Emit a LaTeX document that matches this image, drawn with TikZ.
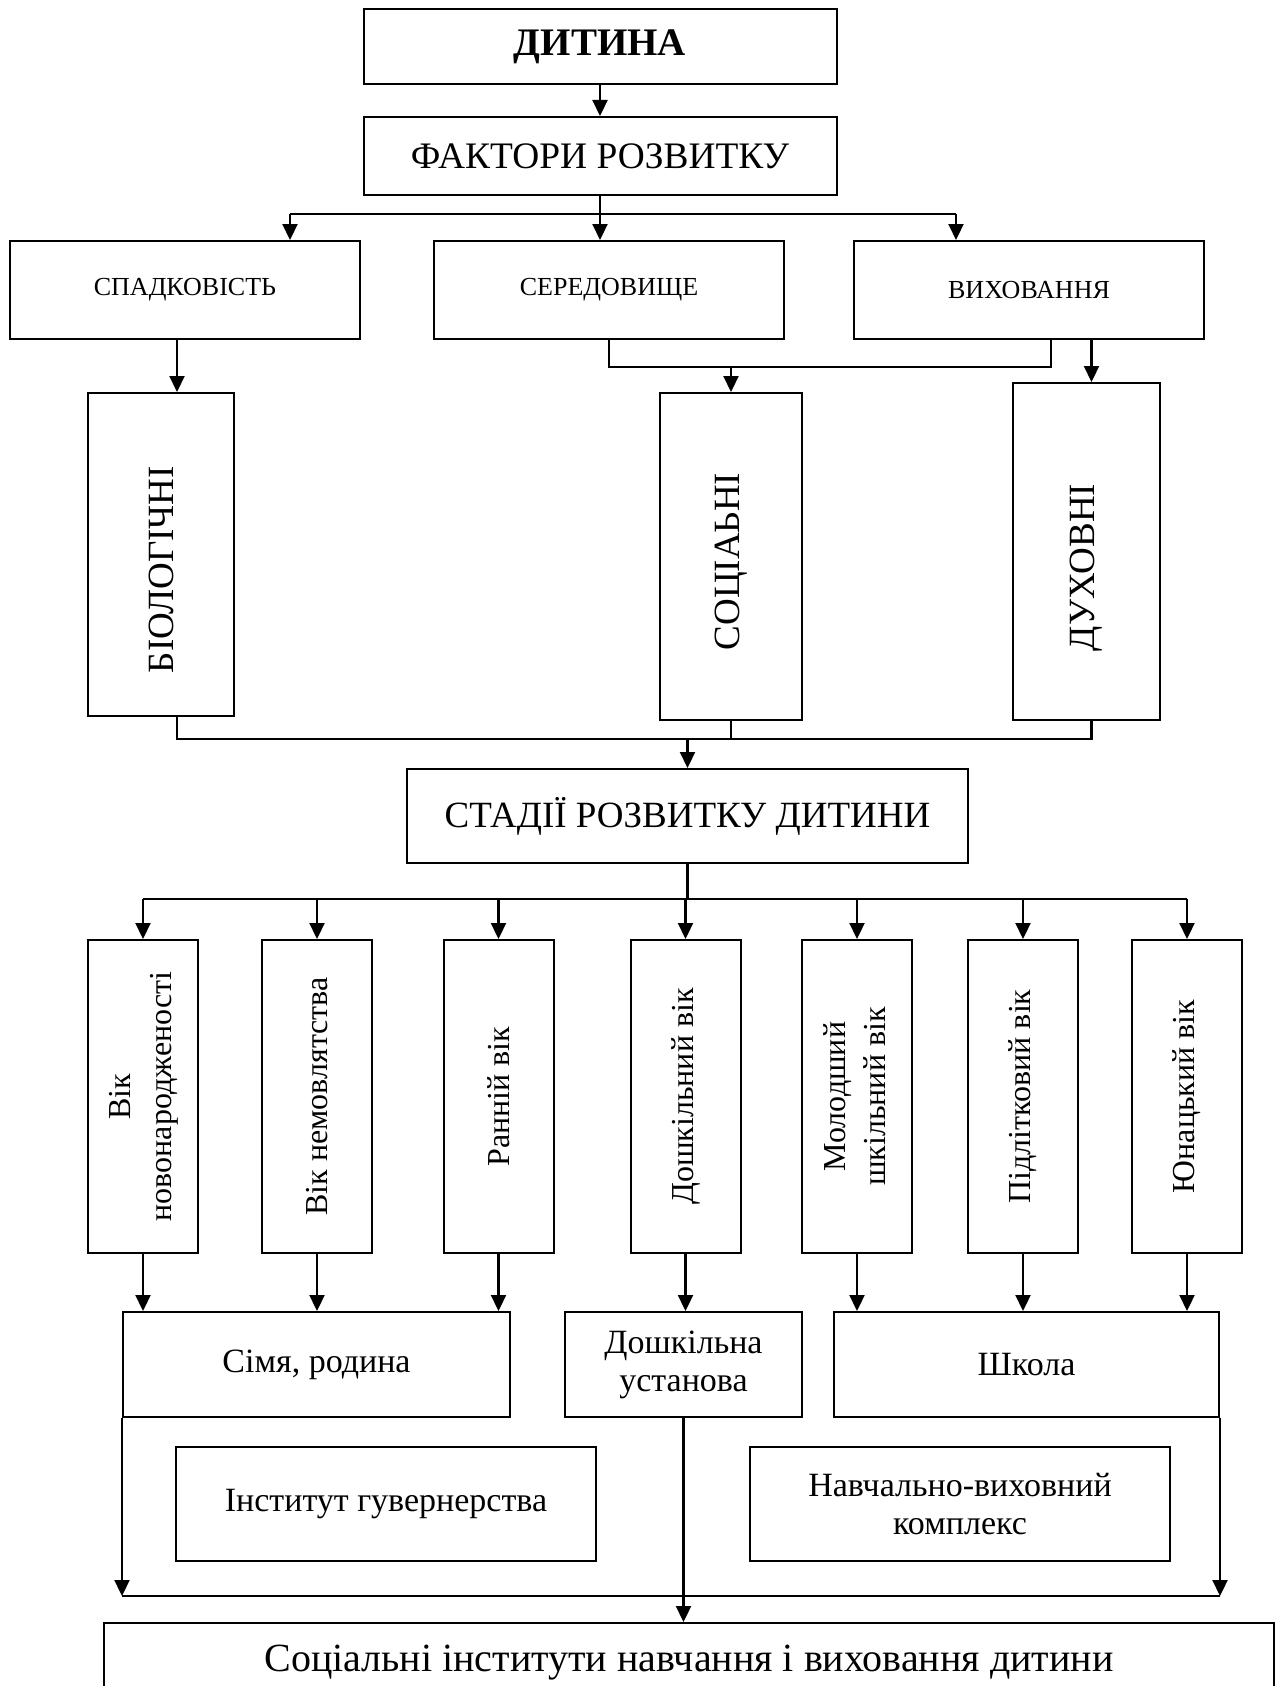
\documentclass[tikz,border=0pt]{standalone}
\usepackage{fontspec}
\setmainfont{Liberation Serif}
\usepackage{graphicx}
\usetikzlibrary{arrows.meta}

\begin{document}
\begin{tikzpicture}[x=0.5pt,y=-0.5pt,
  box/.style={draw, line width=1pt, inner sep=0pt, align=center},
  wire/.style={line width=1.1pt},
  arr/.style={wire, -{Triangle[length=8pt,width=7.5pt]}},
  headfont/.style={font=\fontsize{18.7pt}{21pt}\selectfont},
  smallcaps/.style={font=\fontsize{13pt}{15pt}\selectfont},
  tallfont/.style={font=\fontsize{18.5pt}{22pt}\selectfont},
  stagefont/.style={font=\fontsize{16pt}{20pt}\selectfont},
  instfont/.style={font=\fontsize{17pt}{19pt}\selectfont},
  stagebox/.style={box, stagefont, minimum width=55pt, minimum height=156.5pt}]
\useasboundingbox (0,0) rectangle (1283,1686);

% top part
\node[box, minimum width=236.5pt, minimum height=37.5pt, font=\fontsize{19.5pt}{22pt}\selectfont\bfseries] (dyt) at (600,46.5) {ДИТИНА};
\node[box, headfont, minimum width=236.5pt, minimum height=39pt] (fakt) at (600,156) {ФАКТОРИ РОЗВИТКУ};
\node[box, smallcaps, minimum width=175pt, minimum height=49pt] (spad) at (185,290) {СПАДКОВІСТЬ};
\node[box, smallcaps, minimum width=175pt, minimum height=49pt] (sered) at (609,290) {СЕРЕДОВИЩЕ};
\node[box, smallcaps, minimum width=175pt, minimum height=49pt] (vykh) at (1029,290) {ВИХОВАННЯ};

\node[box, tallfont, minimum width=73pt, minimum height=161.5pt] (bio) at (161,554.5) {\rotatebox{90}{БІОЛОГІЧНІ\hspace*{15pt}}};
\node[box, tallfont, minimum width=71pt, minimum height=163.5pt] (sots) at (731,556.5) {\rotatebox{90}{СОЦІАЬНІ\hspace*{5pt}}};
\node[box, tallfont, minimum width=73.5pt, minimum height=168.5pt] (dukh) at (1086.5,551.5) {\rotatebox{90}{ДУХОВНІ\hspace*{16pt}}};

\node[box, tallfont, minimum width=280.5pt, minimum height=47pt] (stad) at (687.5,816) {СТАДІЇ РОЗВИТКУ ДИТИНИ};

% stages
\node[stagebox] (st1) at (143,1096.5) {\rotatebox{90}{\begin{tabular}{@{}c@{}}Вік\\новонародженості\end{tabular}}};
\node[stagebox] (st2) at (317,1096.5) {\rotatebox{90}{Вік немовлятства}};
\node[stagebox] (st3) at (498.5,1096.5) {\rotatebox{90}{Ранній вік}};
\node[stagebox] (st4) at (685.5,1096.5) {\rotatebox{90}{Дошкільний вік}};
\node[stagebox] (st5) at (857,1096.5) {\rotatebox{90}{\begin{tabular}{@{}c@{}}Молодший\\шкільний вік\end{tabular}}};
\node[stagebox] (st6) at (1023,1096.5) {\rotatebox{90}{Підлітковий вік}};
\node[stagebox] (st7) at (1187,1096.5) {\rotatebox{90}{Юнацький вік}};

% institutions
\node[box, instfont, minimum width=193.5pt, minimum height=52.5pt] (simya) at (316.5,1364.5) {Сімя, родина};
\node[box, instfont, minimum width=118.5pt, minimum height=52.5pt] (dosh) at (683.5,1364.5) {Дошкільна\\установа};
\node[box, instfont, minimum width=192.5pt, minimum height=52.5pt] (shkola) at (1026.5,1364.5) {Школа};
\node[box, instfont, minimum width=210pt, minimum height=57pt] (guv) at (386,1504) {Інститут гувернерства};
\node[box, instfont, minimum width=210pt, minimum height=57pt] (nvk) at (960,1504) {Навчально-виховний\\комплекс};
\node[box, font=\fontsize{20pt}{23pt}\selectfont, anchor=north, minimum width=585pt, text height=24pt, text depth=36pt] (soc) at (689,1622) {Соціальні інститути навчання і виховання дитини};

% connectors
\coordinate (fbrL) at (290,214);
\coordinate (fbrR) at (956,214);
\coordinate (sj) at (731,367);
\coordinate (bj) at (687.5,739);
\coordinate (stbr) at (687.5,899);
\coordinate (ij) at (0,1596);

\draw[arr] (dyt) -- (fakt);
\draw[wire] (fbrL) -- (fbrR);
\draw[arr] (fbrL) -- (fbrL |- spad.north);
\draw[arr] (fakt.south) -- (fakt.south |- sered.north);
\draw[arr] (fbrR) -- (fbrR |- vykh.north);

\draw[arr] ([xshift=8pt]bio.north |- spad.south) -- ([xshift=8pt]bio.north);
\draw[wire] (sered.south) |- (sj) -| ([xshift=11pt]vykh.south);
\draw[arr] (sj) -- (sots.north);
\draw[arr] ([xshift=2.5pt]vykh.south -| dukh.north) -- ([xshift=2.5pt]dukh.north);

\draw[wire] ([xshift=8pt]bio.south) |- ([xshift=2.5pt]dukh.south |- bj) -- ([xshift=2.5pt]dukh.south);
\draw[wire] (sots.south) -- (sots.south |- bj);
\draw[arr] (bj) -- (stad.north);

\draw[wire] (stad.south) -- (stbr);
\draw[wire] (st1.north |- stbr) -- (st7.north |- stbr);
\foreach \s in {1,...,7}
  \draw[arr] (st\s.north |- stbr) -- (st\s.north);
\foreach \s/\t in {1/simya,2/simya,3/simya,4/dosh,5/shkola,6/shkola,7/shkola}
  \draw[arr] (st\s.south) -- (st\s.south |- \t.north);

\draw[arr] (simya.south west) -- (simya.south west |- ij);
\draw[arr] (shkola.south east) -- (shkola.south east |- ij);
\draw[wire] (simya.south west |- ij) -- (shkola.south east |- ij);
\draw[arr] (dosh.south) -- (dosh.south |- soc.north);
\end{tikzpicture}
\end{document}
